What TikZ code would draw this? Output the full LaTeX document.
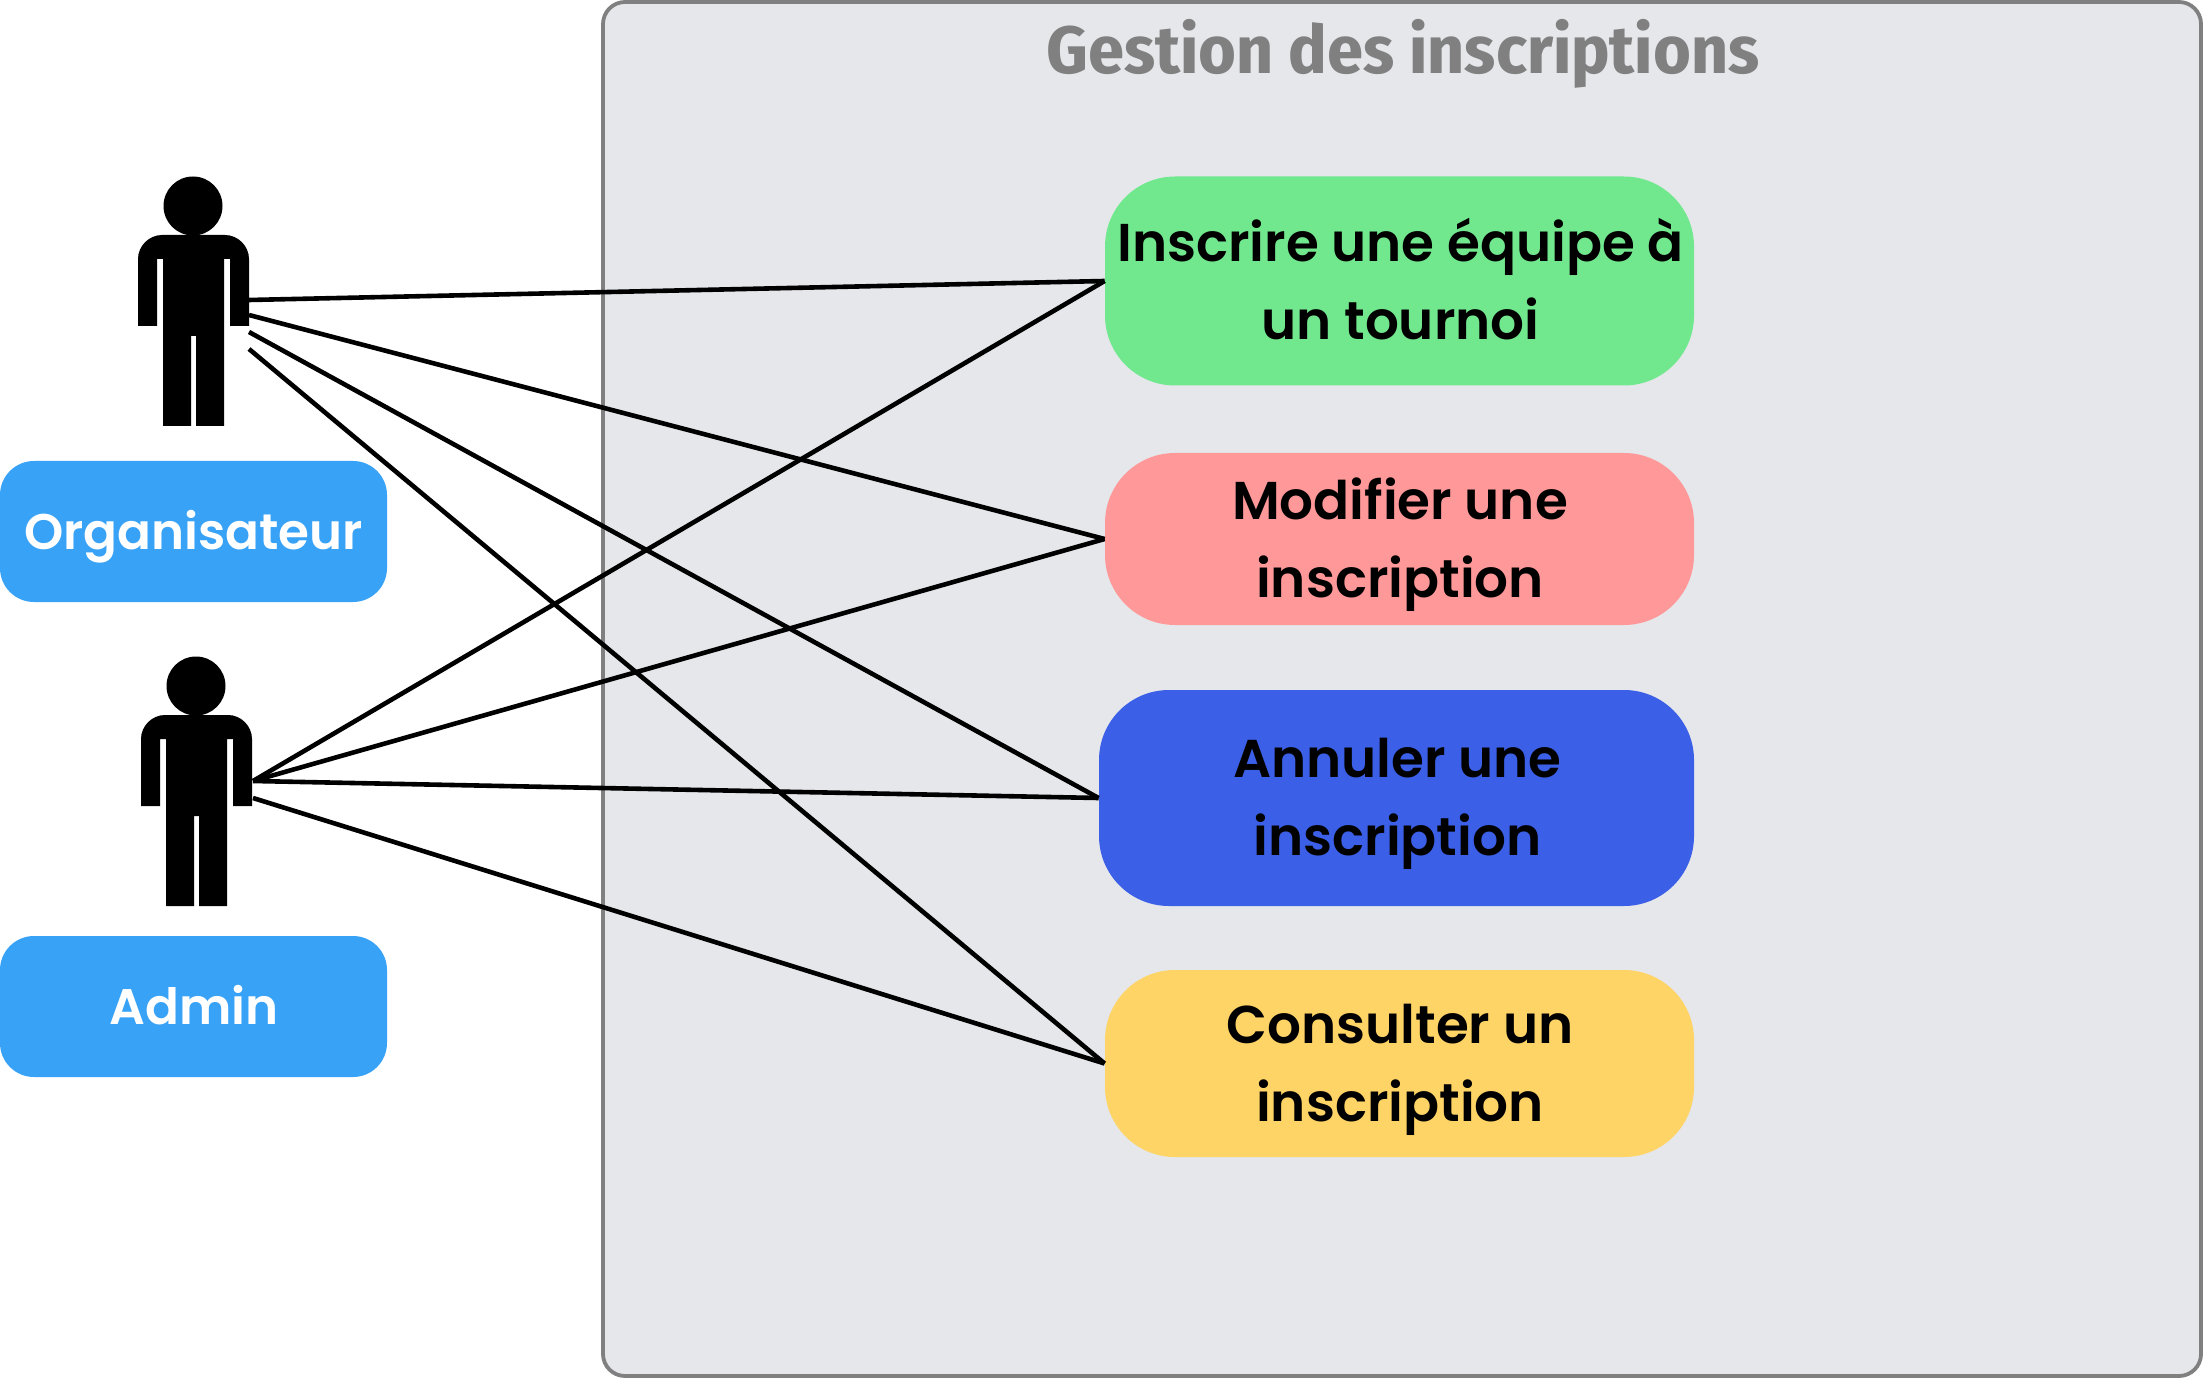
\documentclass[tikz,border=0pt]{standalone}
\usepackage{fontspec}
\setmainfont{Poppins}[BoldFont=Poppins SemiBold]
\newfontfamily\titlefont{Fira Sans Condensed}[BoldFont=Fira Sans Condensed Bold,BoldFeatures={FakeStretch=1.06}]
\definecolor{framefill}{HTML}{E5E7EB}
\definecolor{framedraw}{HTML}{808080}
\definecolor{labelblue}{HTML}{38A2F7}
\definecolor{casegreen}{HTML}{72E88E}
\definecolor{casered}{HTML}{FF9999}
\definecolor{caseblue}{HTML}{3B5FE6}
\definecolor{caseyellow}{HTML}{FFD466}
\tikzset{
  px/.style={x=0.5pt,y=-0.5pt},
  usecase/.style={rectangle,rounded corners=35pt,inner sep=0pt},
  casetext/.style={inner sep=0pt,align=center,text=black,
    font=\fontsize{26.6}{39}\selectfont\bfseries},
  rolebox/.style={rectangle,rounded corners=17pt,fill=labelblue,inner sep=0pt,
    minimum width=193.5pt,minimum height=70.5pt},
  roletext/.style={inner sep=0pt,text=white,
    font=\fontsize{25}{30}\selectfont\bfseries},
  link/.style={draw=black,line width=2.3pt},
}
\newcommand{\actorfig}[1]{%
 \begin{scope}[shift={(#1)}]
  \fill[black] (193,206) circle[radius=29.5];
  \fill[black] (138,326) -- (138,259) .. controls (138,246) and (149,235) .. (162,235) -- (225,235)
    .. controls (238,235) and (249,246) .. (249,259) -- (249,326) -- (230,326) -- (230,259) -- (224,259)
    -- (224,426) -- (196,426) -- (196,336) -- (191,336) -- (191,426) -- (163,426) -- (163,259)
    -- (157,259) -- (157,326) -- cycle;
 \end{scope}}
\begin{document}
\begin{tikzpicture}[px]
\useasboundingbox (0,0) rectangle (2204,1379);
\node[draw=framedraw,fill=framefill,line width=1.9pt,rounded corners=11pt,minimum width=799pt,minimum height=687pt,inner sep=0pt] (frame) at (1402,689) {};
\node[text=framedraw,font=\titlefont\fontsize{33.5}{40}\selectfont\bfseries] (title) at (1403,54) {Gestion des inscriptions};

\actorfig{0,0}
\actorfig{3,480}
\node[rolebox] (org) at (193.5,531.5) {};
\node[roletext] (orgT) at (193.5,537) {Organisateur};
\node[rolebox] (adm) at (193.5,1006.5) {};
\node[roletext] (admT) at (194,1005) {Admin};

\node[usecase,fill=casegreen,minimum width=294.5pt,minimum height=104.5pt] (ins) at (1399.5,281) {};
\node[usecase,fill=casered,minimum width=294.5pt,minimum height=86pt] (mod) at (1399.5,539) {};
\node[usecase,fill=caseblue,minimum width=297.5pt,minimum height=108pt] (ann) at (1396.5,798) {};
\node[usecase,fill=caseyellow,minimum width=294.5pt,minimum height=93.5pt] (con) at (1399.5,1063.5) {};
\node[casetext] (insT) at (1400.5,279.5) {Inscrire une équipe à\\un tournoi};
\node[casetext] (modT) at (1400,545) {Modifier une\\inscription};
\node[casetext] (annT) at (1397.5,804) {Annuler une\\inscription};
\node[casetext] (conT) at (1400,1070) {Consulter un\\inscription};

\coordinate (o1) at (249,300);
\coordinate (o2) at (249,315);
\coordinate (o3) at (249,332);
\coordinate (o4) at (249,349);
\coordinate (a1) at (253,781);
\coordinate (a2) at (253,798);

\draw[link] (o1) -- (ins.west);
\draw[link] (o2) -- (mod.west);
\draw[link] (o3) -- (ann.west);
\draw[link] (o4) -- (con.west);
\draw[link] (a1) -- (ins.west);
\draw[link] (a1) -- (mod.west);
\draw[link] (a1) -- (ann.west);
\draw[link] (a2) -- (con.west);
\end{tikzpicture}
\end{document}
